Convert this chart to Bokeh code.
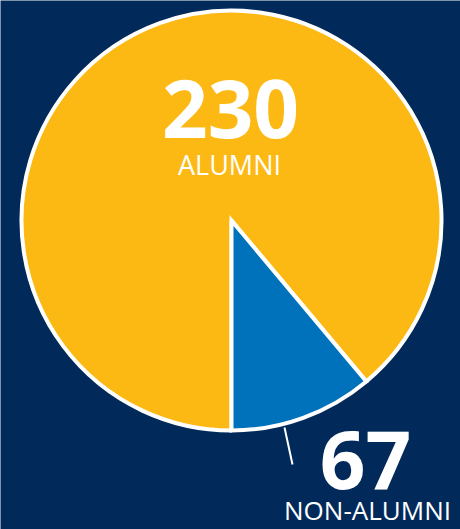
import math
from bokeh.plotting import figure
from bokeh.models import Range1d
from bokeh.core.properties import value
from bokeh.embed import file_html
from bokeh.resources import INLINE

# Data
categories = ["ALUMNI", "NON-ALUMNI"]
counts = [230, 67]
# angular share of each slice as drawn in the reference (percent)
slice_share = [88.9, 11.1]
colors = ["#FDB913", "#0072BC"]

W, H = 460, 529
BG = "#012A5B"

p = figure(width=W, height=H, output_backend="svg", toolbar_location=None,
           x_range=Range1d(0, W), y_range=Range1d(0, H), min_border=0)
p.background_fill_color = BG
p.border_fill_color = BG
p.outline_line_color = None
p.axis.visible = False
p.grid.visible = False

cx, cy, r = 231, H - 220, 210

# Non-alumni slice starts pointing straight down, going counter-clockwise
start = -math.pi / 2
blue_end = start + 2 * math.pi * slice_share[1] / 100.0
p.wedge(x=cx, y=cy, radius=r, start_angle=blue_end, end_angle=start + 2 * math.pi,
        fill_color=colors[0], line_color="white", line_width=4)
p.wedge(x=cx, y=cy, radius=r, start_angle=start, end_angle=blue_end,
        fill_color=colors[1], line_color="white", line_width=4, line_join="miter")

# leader line for non-alumni label
p.segment(x0=[284], y0=[H - 427], x1=[292], y1=[H - 464], line_color="white", line_width=2)

font = value("Open Sans")
big, small = "80px", "27px"
p.text(x=[230], y=[H - 108], text=[str(counts[0])], text_font=font, text_font_style="bold",
       text_font_size=big, text_color="white", text_align="center", text_baseline="alphabetic")
p.text(x=[229], y=[H - 164], text=[categories[0]], text_font=font,
       text_font_size=small, text_color="white", text_align="center", text_baseline="alphabetic")
p.text(x=[365], y=[H - 459], text=[str(counts[1])], text_font=font, text_font_style="bold",
       text_font_size=big, text_color="white", text_align="center", text_baseline="alphabetic")
p.text(x=[367], y=[H - 509], text=[categories[1]], text_font=font,
       text_font_size="26px", text_color="white", text_align="center", text_baseline="alphabetic")

open("out.html", "w").write(file_html(p, INLINE))
